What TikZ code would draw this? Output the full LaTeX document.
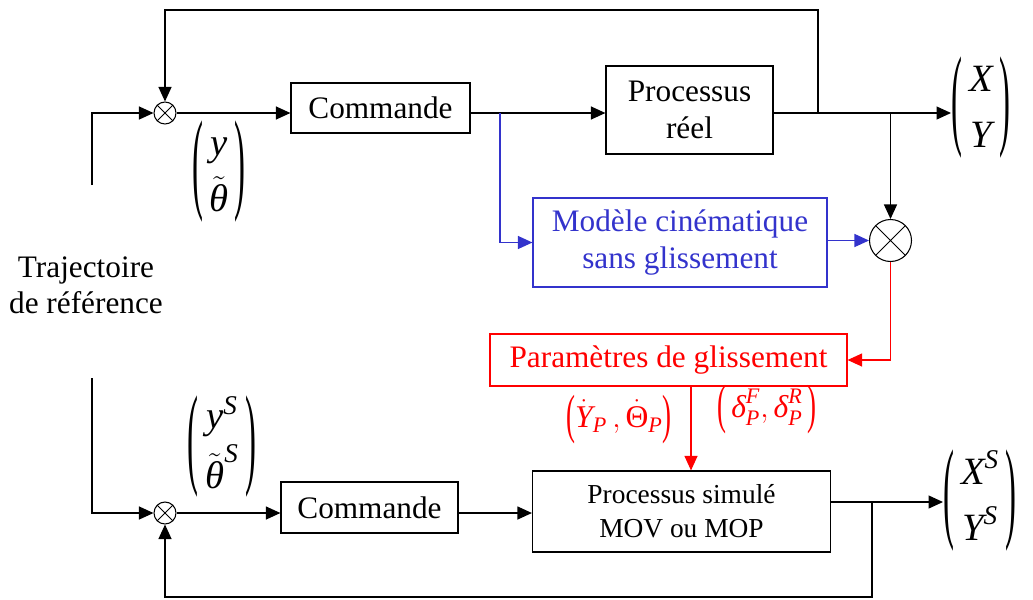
\documentclass[tikz,border=0pt]{standalone}
\usepackage{fontspec}
\setmainfont{Liberation Serif}
\usepackage{amsmath}
\usepackage{graphicx}
\usepackage{tikz}
\usetikzlibrary{arrows.meta}
\definecolor{bleu}{RGB}{51,51,204}
\definecolor{rouge}{RGB}{255,0,0}
% parentheses etirees et vecteurs
\newcommand{\parg}[1]{\vcenter{\hbox{\scalebox{0.85}[#1]{(}}}}
\newcommand{\pard}[1]{\vcenter{\hbox{\scalebox{0.85}[#1]{)}}}}
\newcommand{\vecteur}[2]{$\parg{2.9}\vcenter{\hbox{\begin{tabular}{@{\,}c@{\,}}#1\\#2\end{tabular}}}\pard{2.9}$}
\newcommand{\vit}[1]{\text{\itshape #1}}

\tikzset{
  bloc/.style={draw, line width=0.7pt, inner sep=0pt, align=center, font=\fontsize{17.8}{21}\selectfont},
  somme/.style={circle, draw, line width=0.6pt, inner sep=0pt, minimum size=#1,
    path picture={\draw[line width=0.5pt] (path picture bounding box.north west) -- (path picture bounding box.south east)
      (path picture bounding box.north east) -- (path picture bounding box.south west);}},
  fl/.style={-{Triangle[length=0.29cm,width=0.26cm]}},
  vect/.style={inner sep=0pt, font=\fontsize{22}{32}\selectfont},
  lab/.style={inner sep=0pt, text=rouge, font=\fontsize{18}{21}\selectfont}
}

\begin{document}
\begin{tikzpicture}[x=0.02cm, y=-0.02cm, line width=0.7pt]
\useasboundingbox (0,0) rectangle (1033,599) ;
% boucle reelle
\node[somme=0.44cm] (sum1) at (165,113) {} ;
\node[bloc, minimum width=3.58cm, minimum height=1cm] (cmd1) at (380.5,108) {Commande} ;
\node[bloc, minimum width=3.34cm, minimum height=1.76cm] (proc1) at (689.5,110) {Processus\\r\'eel} ;
\node[bloc, draw=bleu, text=bleu, minimum width=5.88cm, minimum height=1.78cm] (model) at (680,242.5) {Mod\`ele cin\'ematique\\sans glissement} ;
\node[somme=0.84cm] (sum2) at (890.5,240.5) {} ;
\node[vect, anchor=west] (xy) at (951,108) {\vecteur{$\vit{X}$}{$\vit{Y}$}} ;
\node[vect] (vec1) at (219,172) {\vecteur{$\vit{y}$}{$\tilde{\vit{θ}}$}} ;
\node[align=center, font=\fontsize{17.8}{20.5}\selectfont] (traj) at (86,285) {Trajectoire\\de r\'ef\'erence} ;
% parametres
\node[bloc, draw=rouge, text=rouge, minimum width=7.14cm, minimum height=1.04cm] (param) at (668.5,360) {Param\`etres de glissement} ;
\node[lab] (lab1) at (619,420) {$\parg{1.7}\dot{\vit{Y}}_{\vit{P}}\,,\dot{\text{Θ}}_{\vit{P}}\pard{1.7}$} ;
\node[lab] (lab2) at (767,410) {$\parg{1.7}\,\vit{δ}_{\vit{P}}^{\vit{F}},\vit{δ}_{\vit{P}}^{\vit{R}}\,\pard{1.7}$} ;
% boucle simulee
\node[somme=0.44cm] (sum3) at (165,513) {} ;
\node[bloc, minimum width=3.54cm, minimum height=1.02cm] (cmd2) at (369.5,507.5) {Commande} ;
\node[bloc, minimum width=5.96cm, minimum height=1.62cm, font=\fontsize{15.6}{19.3}\selectfont] (sim) at (681.5,511.5) {Processus simul\'e\\MOV ou MOP} ;
\node[vect, anchor=west] (xys) at (943,501) {\vecteur{$\vit{X}^{\vit{S}}$}{$\vit{Y}^{\vit{S}}$}} ;
\node[vect] (vec2) at (222,447) {\vecteur{$\vit{y}^{\vit{S}}$}{$\tilde{\vit{θ}}^{\vit{S}}$}} ;
% points de branchement
\coordinate (in1) at (92,185) ;
\coordinate (in2) at (92,378) ;
\coordinate (fb1) at (818,113) ;
\coordinate (haut) at (818,10) ;
\coordinate (br) at (890.5,113) ;
\coordinate (bb) at (500,113) ;
\coordinate (bs) at (872,502) ;
\coordinate (bas) at (872,597) ;
% liaisons haut
\draw[fl] (in1) |- (sum1) ;
\draw[fl] (sum1) -- (sum1 -| cmd1.west) ;
\draw[fl] (cmd1.east |- sum1) -- (proc1.west |- sum1) ;
\draw[fl] (proc1.east |- sum1) -- (xy.west |- sum1) ;
\draw[fl] (fb1) -- (haut) -| (sum1.north) ;
\draw[fl] (br) -- (sum2.north) ;
\draw[bleu, fl] (bb) |- (model.west) ;
\draw[bleu, fl] (model.east |- sum2) -- (sum2.west) ;
% liaisons rouges
\draw[rouge, fl] (sum2.south) |- (param.east) ;
\draw[rouge, fl] ([xshift=0.45cm]param.south) -- ([xshift=0.45cm]param.south |- sim.north) ;
% liaisons bas
\draw[fl] (in2) |- (sum3) ;
\draw[fl] (sum3) -- (sum3 -| cmd2.west) ;
\draw[fl] (cmd2.east |- sum3) -- (sim.west |- sum3) ;
\draw[fl] (sim.east |- bs) -- (xys.west |- bs) ;
\draw[fl] (bs) -- (bas) -| (sum3.south) ;
\end{tikzpicture}
\end{document}
